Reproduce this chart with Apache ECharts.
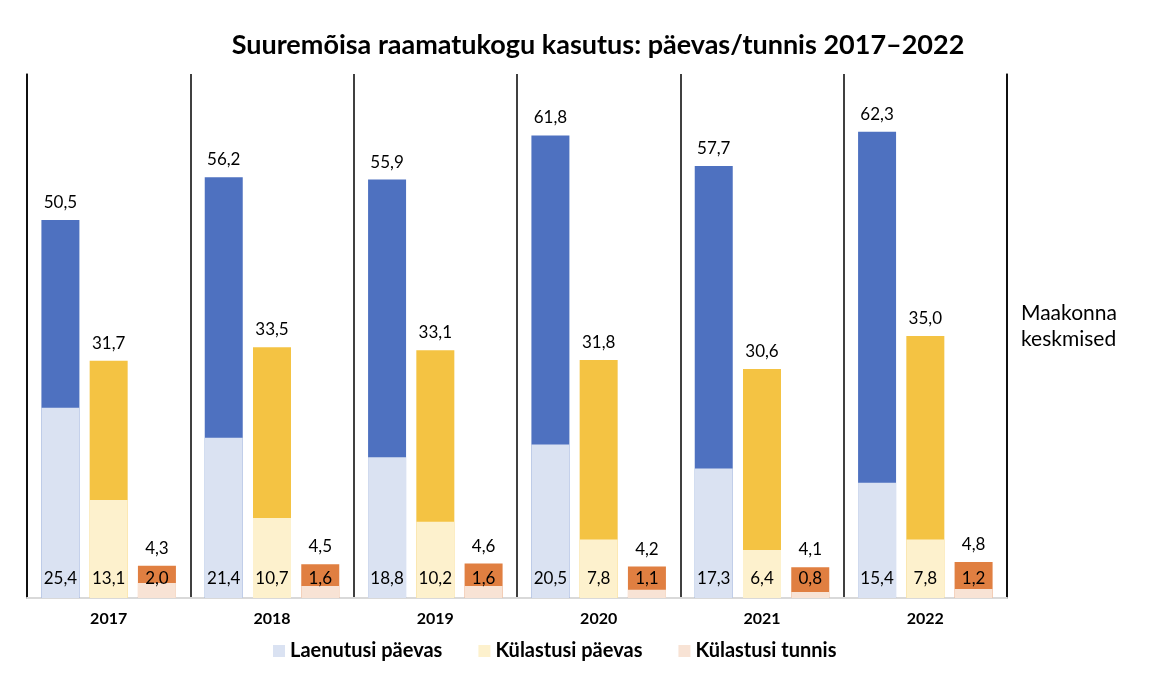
<!DOCTYPE html>
<html>
<head>
<meta charset="utf-8">
<script src="https://cdn.jsdelivr.net/npm/echarts@6/dist/echarts.min.js"></script>
<style>
  html, body { margin: 0; padding: 0; background: #fff; }
  #main { width: 1168px; height: 673px; }
</style>
</head>
<body>
<div id="main"></div>
<script>
// aastad
var years = ['2017', '2018', '2019', '2020', '2021', '2022'];

// maakonna keskmised (tumedad tulbad)
var laenutusiMk = [50.5, 56.2, 55.9, 61.8, 57.7, 62.3];
var kulastusiMk = [31.7, 33.5, 33.1, 31.8, 30.6, 35.0];
var tunnisMk = [4.3, 4.5, 4.6, 4.2, 4.1, 4.8];

// Suuremõisa raamatukogu (heledad tulbad)
var laenutusi = [25.4, 21.4, 18.8, 20.5, 17.3, 15.4];
var kulastusi = [13.1, 10.7, 10.2, 7.8, 6.4, 7.8];
var tunnis = [2.0, 1.6, 1.6, 1.1, 0.8, 1.2];

var FONT = 'Lato, "Open Sans", sans-serif';

function fmt(p) {
    return p.value.toFixed(1).replace('.', ',');
}

function darkBar(name, data, color) {
    return {
        name: name,
        type: 'bar',
        xAxisIndex: 0,
        barWidth: 38,
        barGap: '27%',
        data: data,
        itemStyle: { color: color },
        z: 2,
        label: {
            show: true,
            position: 'top',
            distance: 9,
            formatter: fmt,
            color: '#000',
            fontSize: 17,
            fontFamily: FONT
        }
    };
}

function lightBar(name, data, color) {
    return {
        name: name,
        type: 'bar',
        xAxisIndex: 1,
        barWidth: 38,
        barGap: '27%',
        data: data,
        itemStyle: { color: color },
        z: 3,
        label: {
            show: true,
            position: 'insideBottom',
            distance: 11,
            formatter: fmt,
            color: '#000',
            fontSize: 17,
            fontFamily: FONT
        }
    };
}

var chart = echarts.init(document.getElementById('main'));

var option = {
    animation: false,
    title: {
        text: 'Suuremõisa raamatukogu kasutus: päevas/tunnis 2017–2022',
        left: 593,
        textAlign: 'center',
        top: 27,
        textStyle: { fontSize: 27, fontWeight: 'bold', color: '#000', fontFamily: FONT }
    },
    legend: {
        data: ['Laenutusi päevas', 'Külastusi päevas', 'Külastusi tunnis'],
        left: 268,
        top: 636,
        itemWidth: 12,
        itemHeight: 12,
        itemGap: 36,
        icon: 'rect',
        textStyle: { fontSize: 20, fontWeight: 'bold', color: '#000', fontFamily: FONT }
    },
    grid: { left: 27, right: 161, top: 74, bottom: 75 },
    xAxis: [
        {
            type: 'category',
            data: years,
            axisLine: { show: true, lineStyle: { color: '#d9d9d9', width: 2 } },
            axisTick: { show: false },
            axisLabel: { margin: 13, fontSize: 16, fontWeight: 'bold', color: '#000', fontFamily: FONT },
            splitLine: { show: true, lineStyle: { color: '#000', width: 1.5 } }
        },
        {
            type: 'category',
            data: years,
            show: false
        }
    ],
    yAxis: [
        {
            type: 'value',
            min: 0,
            max: 70,
            axisLine: { show: true, lineStyle: { color: '#000', width: 1.5 } },
            axisLabel: { show: false },
            axisTick: { show: false },
            splitLine: { show: false }
        },
        {
            type: 'value',
            position: 'right',
            min: 0,
            max: 70,
            axisLine: { show: true, lineStyle: { color: '#000', width: 1.5 } },
            axisLabel: { show: false },
            axisTick: { show: false },
            splitLine: { show: false }
        }
    ],
    series: [
        darkBar('Laenutusi päevas (maakond)', laenutusiMk, '#4e71c0'),
        darkBar('Külastusi päevas (maakond)', kulastusiMk, '#f4c343'),
        darkBar('Külastusi tunnis (maakond)', tunnisMk, '#e07f41'),
        lightBar('Laenutusi päevas', laenutusi, '#dae2f2'),
        lightBar('Külastusi päevas', kulastusi, '#fdf1cd'),
        lightBar('Külastusi tunnis', tunnis, '#f8e3d5')
    ],
    graphic: [
        {
            type: 'text',
            left: 1021,
            top: 300,
            style: {
                text: 'Maakonna\nkeskmised',
                fontSize: 21,
                lineHeight: 26,
                fill: '#000',
                fontFamily: FONT
            }
        }
    ]
};

chart.setOption(option);
</script>
</body>
</html>
